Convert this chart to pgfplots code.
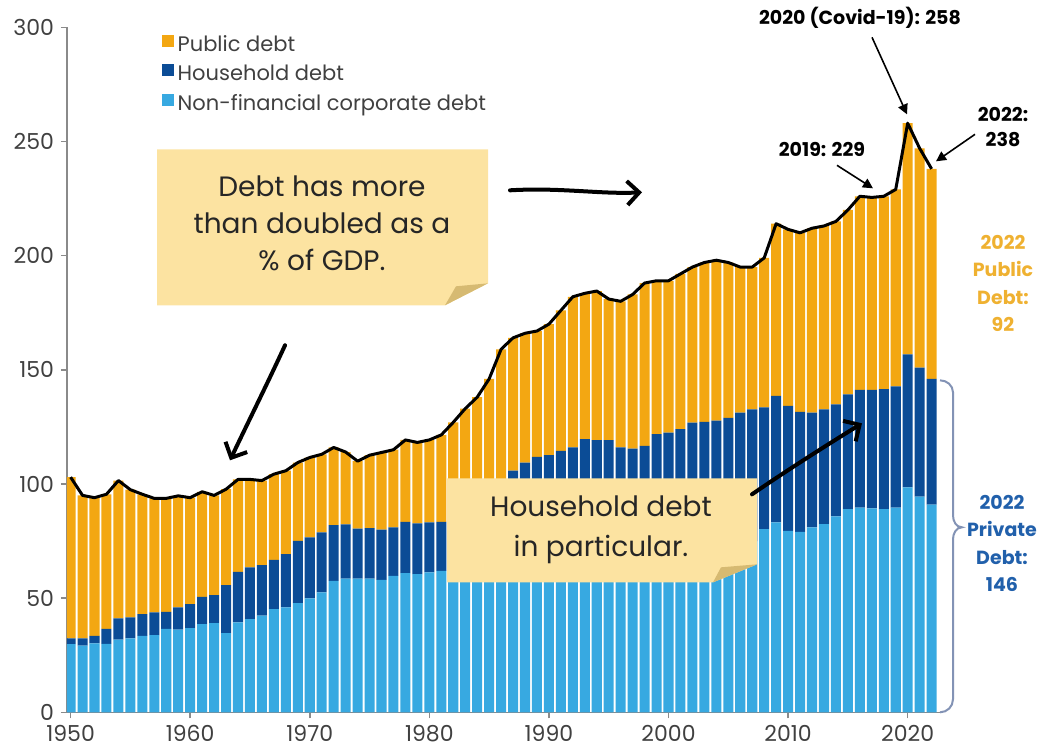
\documentclass[border=0pt]{standalone}
\usepackage{fontspec}
\setmainfont{Poppins}
\usepackage{pgfplots}
\usepackage{pgfplotstable}
\pgfplotsset{compat=1.18}
\usetikzlibrary{arrows.meta}

\definecolor{pubc}{HTML}{F3A712}
\definecolor{hhc}{HTML}{0B4C96}
\definecolor{corpc}{HTML}{37A9E1}
\definecolor{axisc}{HTML}{8A8A8A}
\definecolor{tickc}{HTML}{404040}
\definecolor{notec}{HTML}{FCE3A1}
\definecolor{foldc}{HTML}{D6BA72}
\definecolor{goldc}{HTML}{EFB131}
\definecolor{bluec}{HTML}{2160AB}
\definecolor{bracec}{HTML}{8393B5}

% debt as % of GDP: corporate, household, public, and the total line
\pgfplotstableread{
year corp hh pub tot
1950 29.9 2.5 70.6 103.0
1951 29.2 3.2 62.6 95.0
1952 30.2 3.3 60.5 94.0
1953 30.0 6.5 59.0 95.5
1954 31.8 9.3 60.4 101.5
1955 32.4 9.2 55.9 97.5
1956 33.5 9.5 52.5 95.5
1957 33.8 10.0 49.9 93.7
1958 36.5 7.5 49.7 93.7
1959 36.2 9.8 48.8 94.8
1960 36.9 10.5 46.6 94.0
1961 38.6 12.0 46.0 96.6
1962 39.1 12.2 43.7 95.0
1963 34.7 21.0 42.0 97.7
1964 39.4 22.1 40.5 102.0
1965 40.8 22.7 38.5 102.0
1966 42.3 22.2 37.0 101.5
1967 45.2 21.6 37.5 104.3
1968 46.0 23.3 36.5 105.8
1969 47.8 27.3 34.3 109.4
1970 49.9 26.7 35.0 111.6
1971 52.5 26.3 34.2 113.0
1972 57.6 24.4 34.0 116.0
1973 58.6 23.7 31.7 114.0
1974 58.6 21.9 29.5 110.0
1975 58.6 22.1 31.9 112.6
1976 58.0 22.0 33.8 113.8
1977 59.8 21.2 34.0 115.0
1978 61.0 22.4 35.9 119.3
1979 60.5 22.3 35.4 118.2
1980 61.3 21.9 36.1 119.3
1981 62.0 21.4 38.1 121.5
1982 63.0 24.0 40.0 127.0
1983 62.0 29.0 42.0 133.0
1984 64.0 31.0 43.0 138.0
1985 65.0 34.0 47.0 146.0
1986 67.0 34.0 58.0 159.0
1987 68.0 37.8 58.2 164.0
1988 69.0 40.4 56.6 166.0
1989 70.0 41.9 55.1 167.0
1990 69.0 43.6 57.4 170.0
1991 67.0 47.5 61.5 176.0
1992 65.0 51.0 66.0 182.0
1993 64.0 55.6 63.9 183.5
1994 64.0 55.2 65.3 184.5
1995 65.0 54.2 61.8 181.0
1996 66.0 50.0 64.0 180.0
1997 67.0 48.5 67.5 183.0
1998 70.0 46.7 71.3 188.0
1999 72.0 49.8 67.2 189.0
2000 74.0 48.5 66.5 189.0
2001 73.0 51.0 68.0 192.0
2002 71.0 55.9 68.1 195.0
2003 69.0 58.2 69.8 197.0
2004 68.0 59.7 70.3 198.0
2005 68.0 61.0 68.0 197.0
2006 70.0 61.3 63.7 195.0
2007 75.0 57.7 62.3 195.0
2008 80.2 53.3 65.5 199.0
2009 83.2 55.4 75.4 214.0
2010 79.5 54.7 77.3 211.5
2011 79.0 52.6 78.4 210.0
2012 81.0 50.3 80.7 212.0
2013 82.4 50.3 80.3 213.0
2014 85.8 49.1 80.1 215.0
2015 89.0 50.3 80.7 220.0
2016 89.7 51.5 84.8 226.0
2017 89.3 51.9 84.3 225.5
2018 89.0 52.5 84.5 226.0
2019 89.7 53.0 86.3 229.0
2020 98.5 58.3 101.2 258.0
2021 94.5 56.5 96.0 247.0
2022 91.0 55.0 92.0 238.0
}\debt

\begin{document}
\begin{tikzpicture}
% page in pixel units of the reference (1 px = 0.5pt)
\begin{scope}[x=0.5pt, y=-0.5pt, shift={(-33.5pt,355pt)}]
  \path[use as bounding box] (0,0) rectangle (1057,749);
\end{scope}

\pgfplotsset{frame/.style={
  scale only axis, width=436.5pt, height=342.5pt,
  xmin=1949.7, xmax=2022.7, ymin=0, ymax=300,
  at={(0,0)}, anchor=south west}}

\begin{axis}[frame,
  ybar stacked, bar width=0.84,
  axis lines*=left,
  axis line style={draw=axisc, line width=0.8pt},
  tick style={draw=axisc, line width=0.8pt},
  tick align=outside, major tick length=3pt,
  xtick={1950,1960,...,2020}, ytick={0,50,...,300},
  /pgf/number format/1000 sep={},
  /pgf/number format/assume math mode=true,
  tick label style={font=\fontsize{11}{13}\selectfont, text=tickc},
  legend style={at={(0.108,0.995)}, anchor=north west, draw=none, fill=none,
    font=\fontsize{10.5}{13}\selectfont, text=tickc, row sep=1.5pt, inner sep=0pt},
  legend cell align=left, reverse legend,
  legend image code/.code={\fill[#1] (0pt,-1pt) rectangle (6pt,5pt);},
]
\addplot[fill=corpc, draw=none] table[x=year, y=corp] {\debt};
\addlegendentry{Non-financial corporate debt}
\addplot[fill=hhc, draw=none] table[x=year, y=hh] {\debt};
\addlegendentry{Household debt}
\addplot[fill=pubc, draw=none] table[x=year, y=pub] {\debt};
\addlegendentry{Public debt}
\end{axis}

\begin{axis}[frame, hide axis]
\addplot[black, line width=1.5pt, line join=round, mark=none] table[x=year, y=tot] {\debt};
\end{axis}

\begin{scope}[x=0.5pt, y=-0.5pt, shift={(-33.5pt,355pt)}]
  % sticky notes
  \fill[notec] (157,147) -- (488,147) -- (488,281) -- (445,303) -- (157,303) -- cycle;
  \fill[foldc] (445,303) -- (456,284) -- (488,281) -- cycle;
  \node[font=\fontsize{14}{18.5}\selectfont, text=black!85, align=center] at (322,221)
    {Debt has more\\than doubled as a\\\% of GDP.};
  \fill[notec] (447,476) -- (757,476) -- (757,562) -- (713,580) -- (447,580) -- cycle;
  \fill[foldc] (713,580) -- (721,565) -- (757,562) -- cycle;
  \node[font=\fontsize{14}{20}\selectfont, text=black!85, align=center] at (601,527)
    {Household debt\\in particular.};

  % hand-drawn arrows
  \begin{scope}[line width=2pt, line cap=round, line join=round,
      -{Straight Barb[length=6pt,width=12pt,line width=2pt]}]
    \draw (285,343) .. controls (268,380) and (248,420) .. (230,458);
    \draw (510,188) .. controls (560,185) and (600,192) .. (642,190);
    \draw (752,492) .. controls (790,466) and (828,442) .. (862,421);
  \end{scope}

  % value call-outs
  \begin{scope}[line width=0.8pt, -{Triangle[length=5pt,width=5pt]}]
    \draw (872,35) -- (907,112);
    \draw (837,163) -- (873,186);
    \draw (975,132) -- (936,159);
  \end{scope}
  \begin{scope}[font=\bfseries\fontsize{9.5}{12.5}\selectfont, align=center]
    \node at (860,15) {2020 (Covid-19): 258};
    \node at (822,147) {2019: 229};
    \node at (1003,125) {2022:\\238};
    \node[text=goldc, font=\bfseries\fontsize{9.5}{13.75}\selectfont] at (1003,281) {2022\\Public\\Debt:\\92};
    \node[text=bluec, font=\bfseries\fontsize{9.5}{13.75}\selectfont] at (1002,541) {2022\\Private\\Debt:\\146};
  \end{scope}

  % brace round private debt in 2022
  \draw[bracec, line width=1pt] (940,378) to[out=0,in=90] (953,390) -- (953,513)
    to[out=-90,in=180] (962,525) to[out=180,in=90] (953,537) -- (953,697)
    to[out=-90,in=0] (940,710);
\end{scope}
\end{tikzpicture}
\end{document}
